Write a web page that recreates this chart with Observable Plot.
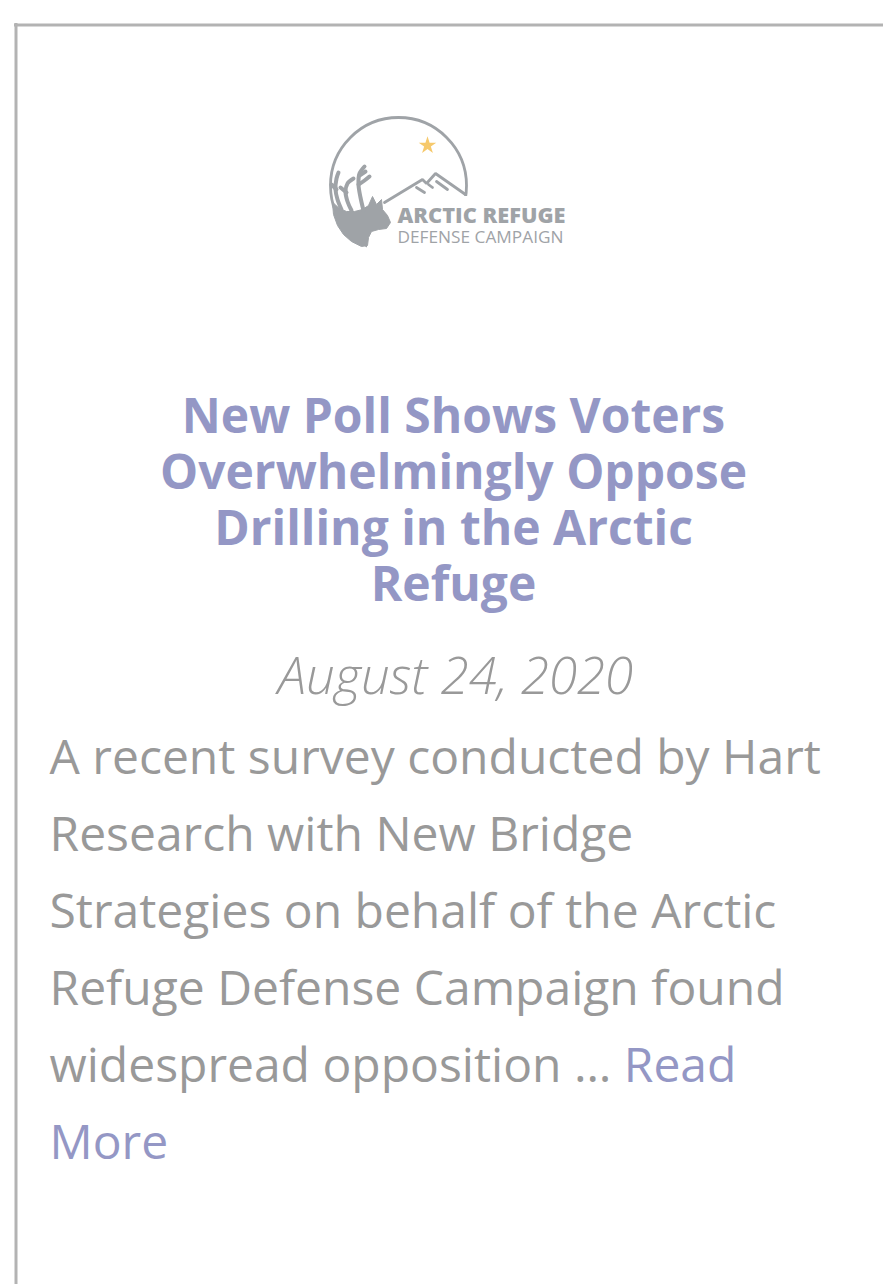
<!DOCTYPE html>
<html>
<head>
<meta charset="utf-8">
<script src="https://cdn.jsdelivr.net/npm/d3@7"></script>
<script src="https://cdn.jsdelivr.net/npm/@observablehq/plot@0.6"></script>
<style>
  html, body { margin: 0; padding: 0; background: #fff; overflow: hidden; }
  #chart svg { display: block; }
</style>
</head>
<body>
<div id="chart"></div>
<script>
// ---- content ----
const titleLines = ["New Poll Shows Voters", "Overwhelmingly Oppose", "Drilling in the Arctic", "Refuge"];
const dateLabel = ["August 24, 2020"];
const bodyLines = [
  "A recent survey conducted by Hart",
  "Research with New Bridge",
  "Strategies on behalf of the Arctic",
  "Refuge Defense Campaign found",
  "widespread opposition \u2026 "
];
const readMoreWords = ["Read", "More"];
const logoWords = ["ARCTIC REFUGE", "DEFENSE CAMPAIGN"];

// ---- logo shapes (drawing outline points) ----
const caribouBody = [
  [332,202],[333,214],[337,225],[343,234],[351,241],[361,246],[367,245],[368,237],[371,231],
  [378,229],[386,228],[390,222],[387,215],[382,209],[381,199],[376,204],[372,196],[368,205],
  [362,209],[354,211],[346,211],[339,208]
];
const antlers = [
  {id:"a", pts:[[363,210],[360,197],[358,184],[359,173],[364,166]]},
  {id:"b", pts:[[358,184],[364,180],[369,176]]},
  {id:"c", pts:[[359,175],[365,171]]},
  {id:"d", pts:[[351,210],[347,201],[345,191],[347,183],[353,178]]},
  {id:"e", pts:[[346,192],[340,187]]},
  {id:"f", pts:[[341,209],[337,199],[335,189],[336,178],[338,172]]},
  {id:"g", pts:[[336,189],[331,184]]}
];
const ridge = [[384,202],[422,179],[426,183],[435,173],[465,194]];
const snow = [
  {id:"s1", pts:[[416,187],[424,192]]},
  {id:"s2", pts:[[436,181],[447,189]]},
  {id:"s3", pts:[[428,184],[432,187]]}
];

const W = 883, H = 1284;
const LAV = "#9497c5", GREY = "#999999", LOGO = "#9fa3a7";
const FONT = "'Open Sans', sans-serif";
const flat = arr => arr.flatMap(o => o.pts.map(p => ({id:o.id, x:p[0], y:p[1]})));

const plot = Plot.plot({
  width: W, height: H, margin: 0,
  style: {background: "#fff", fontFamily: FONT},
  x: {domain: [0, W], range: [0, W], axis: null},
  y: {domain: [0, H], range: [0, H], axis: null},
  marks: [
    // card border
    Plot.ruleX([15.5], {y1: 23, y2: H, stroke: "#b3b3b3", strokeWidth: 3}),
    Plot.ruleY([24.5], {x1: 14, x2: W, stroke: "#b3b3b3", strokeWidth: 3}),
    // logo circle + mask
    Plot.dot([0], {x: () => 398, y: () => 185, r: 68, stroke: LOGO, strokeWidth: 2.8, fill: "none"}),
    Plot.rect([0], {x1: () => 367, x2: () => 478, y1: () => 196, y2: () => 262, fill: "#fff"}),
    // star
    Plot.dot([0], {x: () => 427, y: () => 145, symbol: "star", r: 5.5, fill: "#f6c96c", stroke: "none"}),
    // mountains
    Plot.line(ridge, {x: d => d[0], y: d => d[1], stroke: LOGO, strokeWidth: 2.8, strokeLinejoin: "miter"}),
    Plot.line(flat(snow), {x: "x", y: "y", z: "id", stroke: LOGO, strokeWidth: 2.8}),
    // caribou
    Plot.line(caribouBody, {x: d => d[0], y: d => d[1], fill: LOGO, stroke: LOGO, strokeWidth: 1, curve: "linear-closed"}),
    Plot.line(flat(antlers), {x: "x", y: "y", z: "id", stroke: LOGO, strokeWidth: 4, curve: "catmull-rom", strokeLinecap: "round"}),
    // logo words
    Plot.text(logoWords, {x: () => 397, y: (d, i) => [222, 242][i], text: d => d, textAnchor: "start", lineAnchor: "bottom",
      fill: LOGO, fontFamily: FONT}),
    // title (one multi-line text)
    Plot.text([titleLines.join("\n")], {x: () => 453, y: () => 600, text: d => d, lineAnchor: "bottom", lineHeight: 56 / 48,
      fontSize: 48, fontWeight: 700, fill: LAV, fontFamily: FONT}),
    // date
    Plot.text(dateLabel, {x: () => 455, y: () => 693, text: d => d, lineAnchor: "bottom",
      fontSize: 51, fontWeight: 300, fontStyle: "italic", fill: GREY, fontFamily: FONT}),
    // body
    Plot.text(bodyLines, {x: () => 49, y: (d, i) => 773 + 77 * i, text: d => d, textAnchor: "start", lineAnchor: "bottom",
      fontSize: 48, fontWeight: 400, fill: GREY, fontFamily: FONT}),
    Plot.text(readMoreWords.slice(1), {x: () => 49, y: () => 773 + 77 * 5, text: d => d, textAnchor: "start", lineAnchor: "bottom",
      fontSize: 48, fontWeight: 400, fill: LAV, fontFamily: FONT})
  ]
});

// post-style: logo words, inline "Read"
const svg = d3.select(plot);
svg.selectAll("text").each(function () {
  const t = this.textContent;
  const s = d3.select(this);
  if (t === logoWords[0]) {
    s.attr("font-size", 21).attr("font-weight", 800).attr("textLength", 168).attr("lengthAdjust", "spacingAndGlyphs");
  } else if (t === logoWords[1]) {
    s.attr("font-size", 15.5).attr("font-weight", 400).attr("textLength", 166).attr("lengthAdjust", "spacingAndGlyphs");
  } else if (t === bodyLines[4]) {
    s.append("tspan").attr("fill", LAV).text(readMoreWords[0]);
  }
});

document.getElementById("chart").appendChild(plot);
</script>
</body>
</html>
